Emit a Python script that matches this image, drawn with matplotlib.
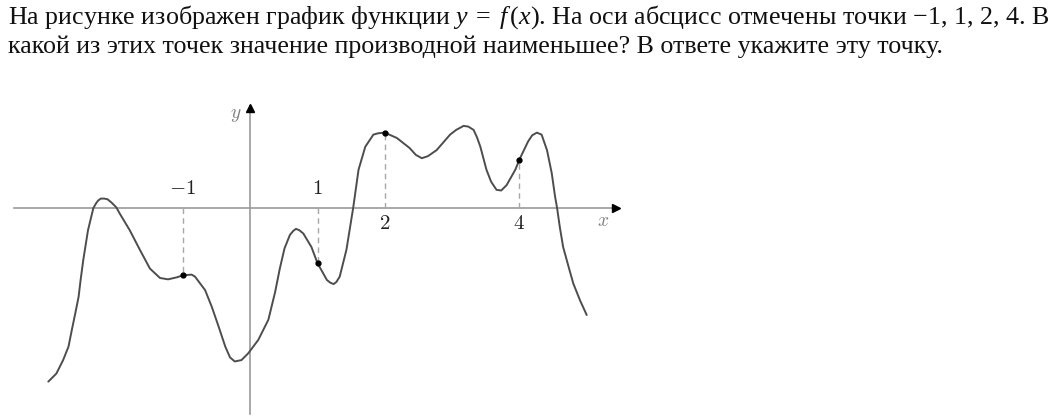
import matplotlib.pyplot as plt

plt.rcParams['font.family'] = ['Liberation Serif', 'DejaVu Serif']
plt.rcParams['mathtext.fontset'] = 'custom'
plt.rcParams['mathtext.rm'] = 'Liberation Serif'
plt.rcParams['mathtext.it'] = 'Liberation Serif:italic'

# task text
line1 = ("На рисунке изображен график функции $y\\;=\\;f\\,(x)$. "
         "На оси абсцисс отмечены точки −1, 1, 2, 4. В")
line2 = "какой из этих точек значение производной наименьшее? В ответе укажите эту точку."

# graph of y = f(x) (one unit = one grid step)
curve_x = [-3.00, -2.88, -2.78, -2.70, -2.65, -2.60, -2.55, -2.52, -2.48, -2.41,
           -2.33, -2.29, -2.26, -2.22, -2.17, -2.12, -2.06, -1.99, -1.94, -1.79,
           -1.64, -1.49, -1.34, -1.22, -1.09, -1.00, -0.87, -0.82, -0.67, -0.57,
           -0.47, -0.37, -0.30, -0.23, -0.13, -0.03, 0.12, 0.27, 0.37, 0.44,
           0.51, 0.59, 0.64, 0.68, 0.73, 0.79, 0.91, 1.00, 1.14, 1.19,
           1.24, 1.28, 1.33, 1.43, 1.53, 1.61, 1.71, 1.83, 1.90, 2.00,
           2.18, 2.37, 2.46, 2.55, 2.64, 2.77, 2.97, 3.06, 3.17, 3.24,
           3.32, 3.37, 3.42, 3.51, 3.58, 3.66, 3.73, 3.81, 3.94, 4.00,
           4.13, 4.19, 4.26, 4.33, 4.41, 4.48, 4.53, 4.56, 4.60, 4.65,
           4.73, 4.80, 4.90, 5.00]
curve_y = [-2.58, -2.46, -2.26, -2.06, -1.81, -1.57, -1.32, -1.07, -0.77, -0.33,
           0.00, 0.07, 0.11, 0.14, 0.14, 0.13, 0.08, 0.01, -0.08, -0.33,
           -0.62, -0.90, -1.04, -1.06, -1.03, -1.00, -0.99, -1.02, -1.22, -1.47,
           -1.76, -2.06, -2.22, -2.28, -2.26, -2.16, -1.96, -1.66, -1.25, -0.90,
           -0.60, -0.40, -0.34, -0.31, -0.33, -0.38, -0.58, -0.82, -1.07, -1.11,
           -1.13, -1.10, -1.02, -0.62, 0.00, 0.57, 0.91, 1.09, 1.11, 1.12,
           1.04, 0.89, 0.79, 0.74, 0.77, 0.86, 1.09, 1.16, 1.22, 1.21,
           1.16, 1.05, 0.91, 0.57, 0.39, 0.27, 0.26, 0.34, 0.57, 0.72,
           0.99, 1.08, 1.12, 1.09, 0.86, 0.52, 0.17, 0.00, -0.28, -0.58,
           -0.87, -1.12, -1.37, -1.59]

# marked points on the x axis
marked_x = [-1, 1, 2, 4]
marked_y = [-1.00, -0.82, 1.12, 0.72]
tick_labels = [r"$-1$", r"$1$", r"$2$", r"$4$"]

# layout (pixels of the original picture)
W, H = 1061, 417
unit = 67.3
ox, oy = 250.2, 208.0

fig = plt.figure(figsize=(W / 100, H / 100), dpi=100)
ax = fig.add_axes([0, 0, 1, 1])
ax.set_xlim(-ox / unit, (W - ox) / unit)
ax.set_ylim((oy - H) / unit, oy / unit)
ax.axis('off')

axis_col = '#9a9a9a'
x_start, x_end = -3.51, 5.51
y_start, y_end = -3.06, 1.56

ax.plot([x_start, x_end - 0.05], [0, 0], color=axis_col, lw=1.2, zorder=1)
ax.plot([0, 0], [y_start, y_end - 0.05], color=axis_col, lw=1.2, zorder=1)
ax.plot(x_end - 0.07, 0, marker='>', color='black', markersize=6, zorder=3)
ax.plot(0, y_end - 0.07, marker='^', color='black', markersize=6, zorder=3)

for xv, yv in zip(marked_x, marked_y):
    ax.plot([xv, xv], [0, yv], color='#a8a8a8', lw=1.0,
            linestyle=(0, (4, 3)), zorder=1)

ax.plot(curve_x, curve_y, color='#4d4d4d', lw=1.4,
        solid_joinstyle='round', solid_capstyle='round', zorder=2)
ax.plot(marked_x, marked_y, 'o', color='black', markersize=3.5, zorder=4)

for xv, yv, lab in zip(marked_x, marked_y, tick_labels):
    ty = 0.27 if yv < 0 else -0.24
    ax.text(xv, ty, lab, ha='center', va='center', fontsize=15,
            color='#222222', math_fontfamily='cm')

ax.text(5.25, -0.20, r"$x$", ha='center', va='center', fontsize=14,
        color='#808080', math_fontfamily='cm')
ax.text(-0.22, 1.38, r"$y$", ha='center', va='center', fontsize=14,
        color='#808080', math_fontfamily='cm')

fig.text(8 / W, 1 - 23.5 / H, line1, fontsize=18.7, va='baseline',
         ha='left', color='#111111')
fig.text(8 / W, 1 - 53.5 / H, line2, fontsize=18.7, va='baseline',
         ha='left', color='#111111')

fig.savefig('out.png', dpi=100)
